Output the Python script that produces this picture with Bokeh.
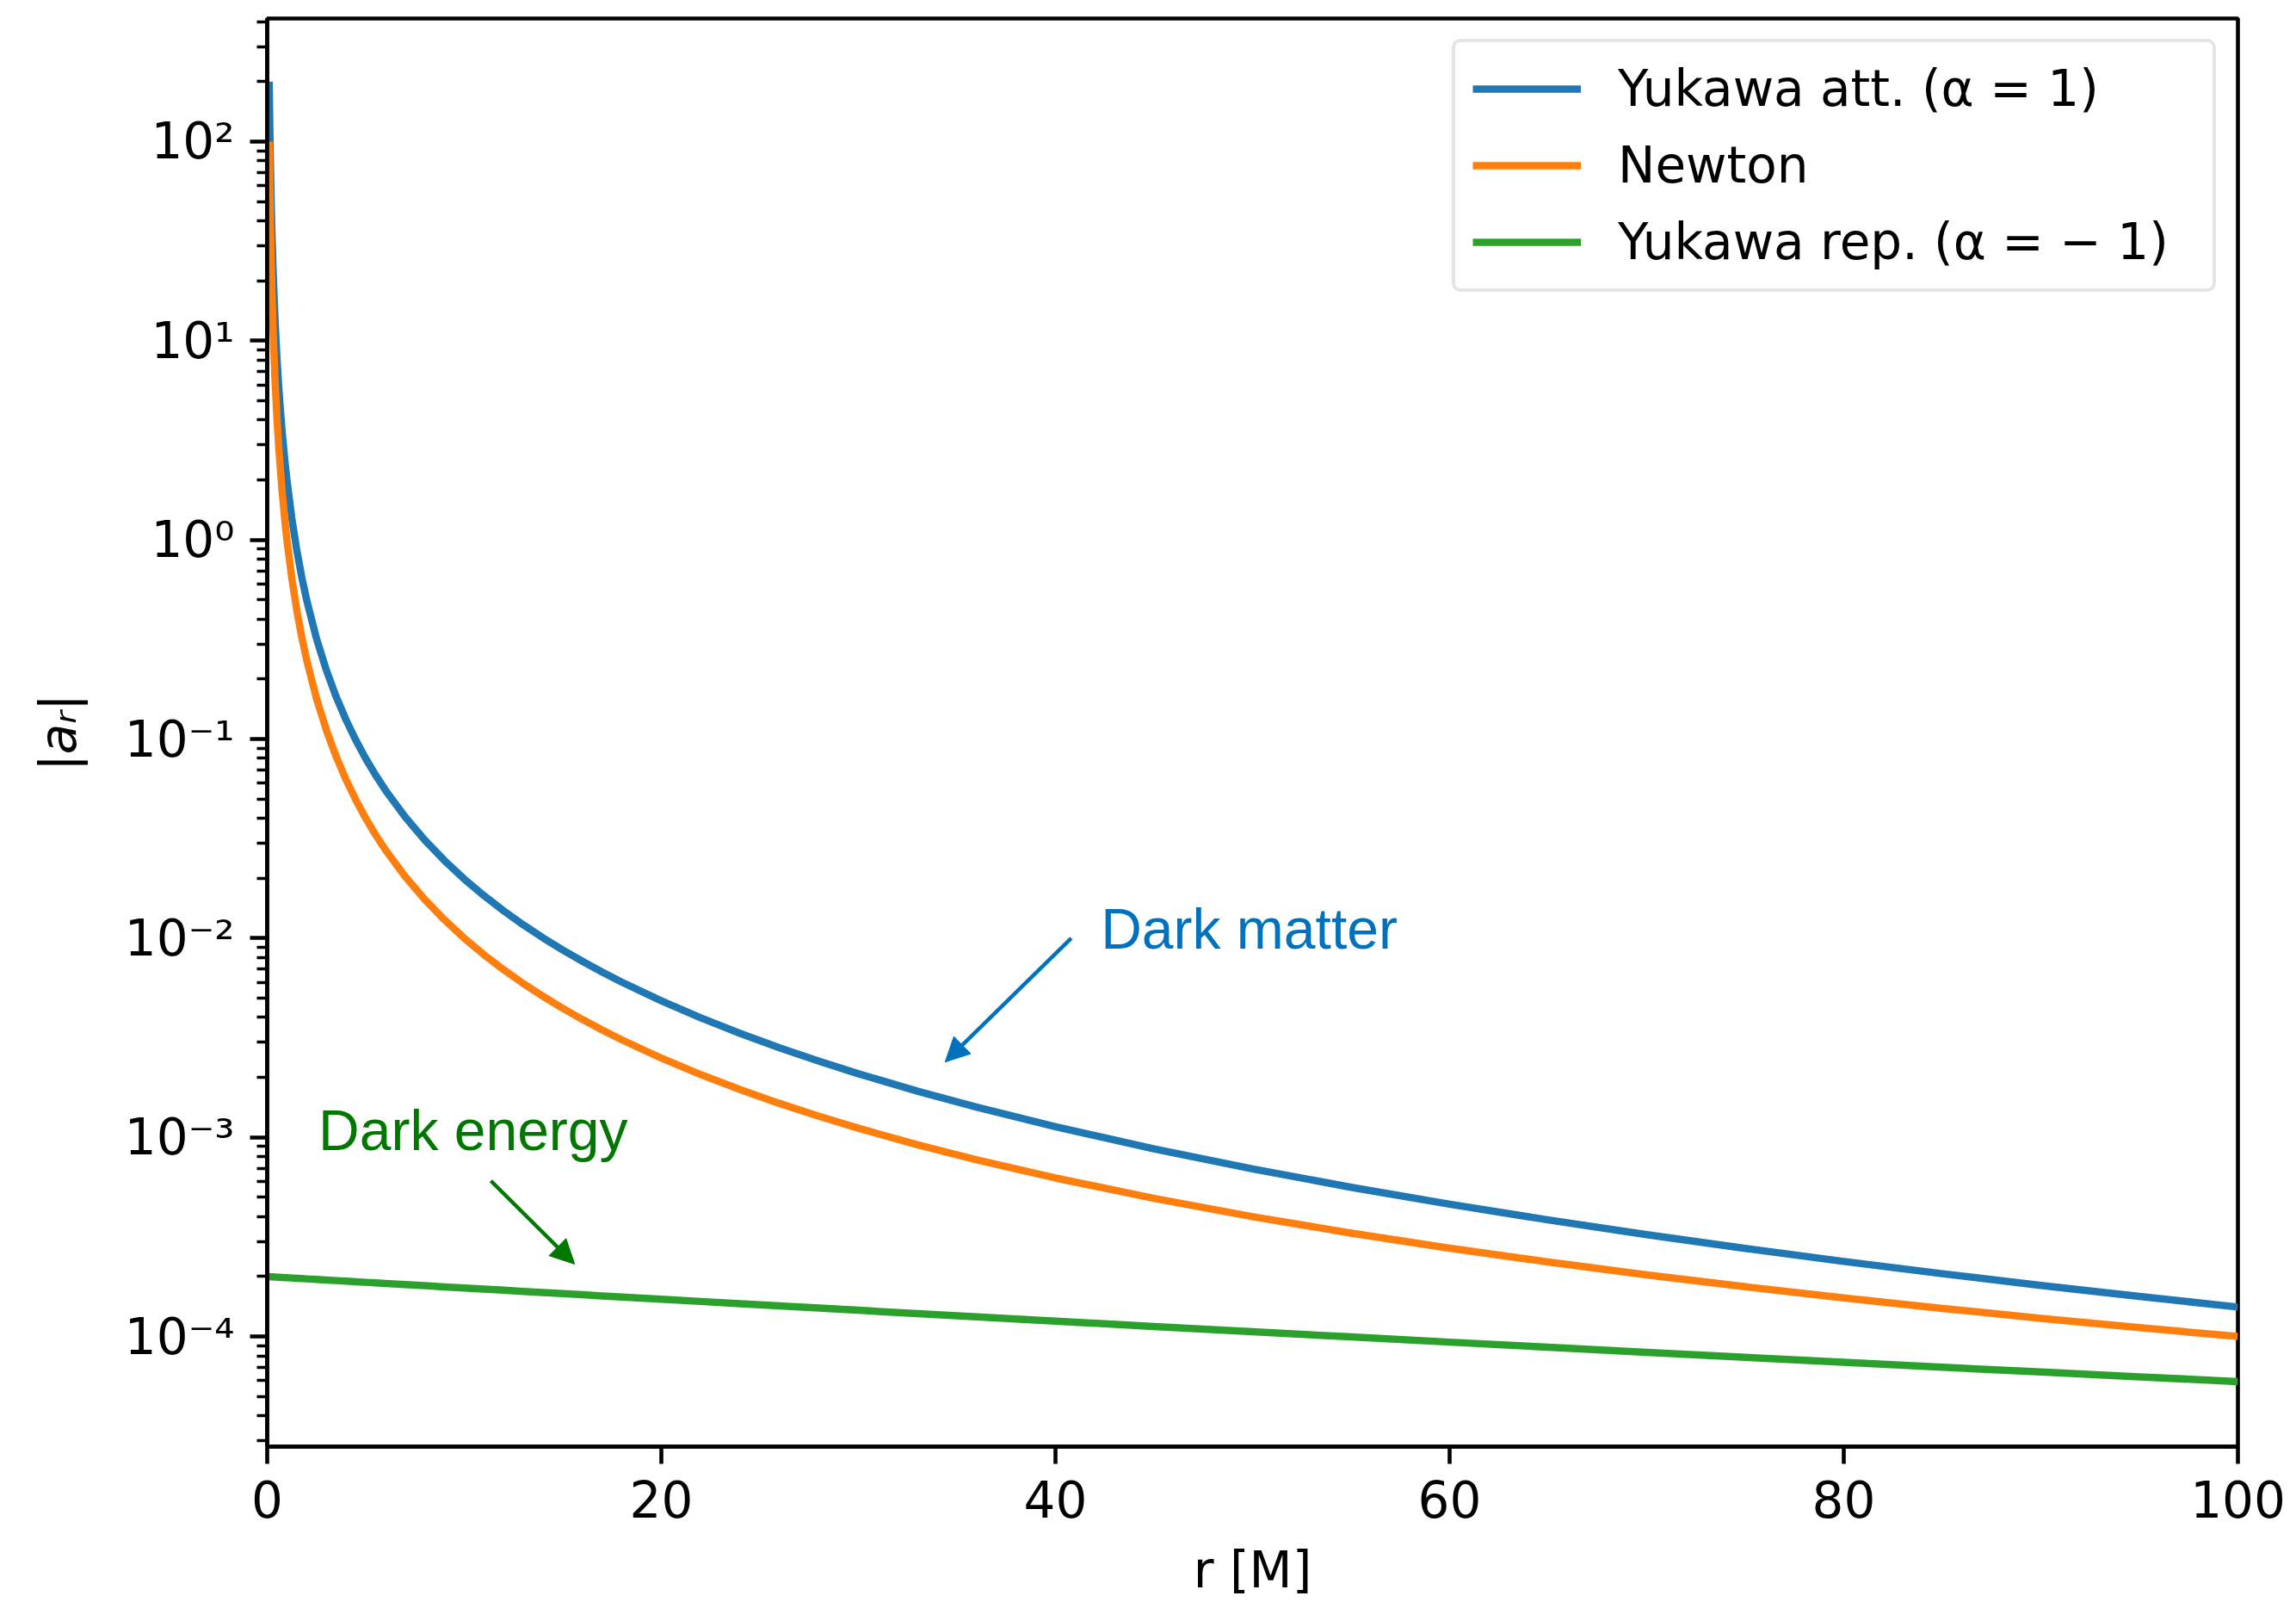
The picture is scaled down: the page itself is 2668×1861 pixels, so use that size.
from bokeh.plotting import figure
from bokeh.models import Range1d, FixedTicker, Legend, LegendItem, Label, Arrow, NormalHead
from bokeh.embed import file_html
from bokeh.resources import INLINE

# ---- data ----
r = [0.1, 0.15, 0.2, 0.25, 0.3, 0.4, 0.5, 0.6, 0.75, 0.9,
     1.0, 1.25, 1.5, 1.75, 2, 2.5, 3, 3.5, 4, 4.5,
     5, 5.5, 6, 7, 8, 9, 10, 11, 12, 13,
     14, 15, 16, 17, 18, 20, 22, 24, 26, 28,
     30, 33, 36, 40, 45, 50, 55, 60, 65, 70,
     75, 80, 85, 90, 95, 100]

yukawa_att = [199.9998, 88.8887, 49.9998, 31.9998, 22.2220, 12.4998, 7.9998, 5.5554, 3.5554, 2.46894,
              1.99980, 1.27980, 0.88869, 0.65287, 0.49981, 0.31981, 0.22203, 0.163074, 0.12481, 0.098577,
              0.079813, 0.0659298, 0.0553709, 0.040634, 0.0310701, 0.0245139, 0.0198248, 0.0163559, 0.0137182, 0.0116658,
              0.0100378, 0.0087247, 0.0076505, 0.0067604, 0.0060149, 0.0048461, 0.0039822, 0.0033261, 0.0028161, 0.0024121,
              0.0020868, 0.0017061, 0.0014176, 0.0011305, 0.0008753, 0.0006943, 0.00056167, 0.00046184, 0.00038504, 0.00032486,
              0.00027695, 0.00023827, 0.00020668, 0.00018059, 0.00015887, 0.0001406]

newton = [100.0, 44.444, 25.0, 16.0, 11.111, 6.25, 4.0, 2.7778, 1.7778, 1.23457,
          1.0, 0.64, 0.44444, 0.32653, 0.25, 0.16, 0.11111, 0.081633, 0.0625, 0.049383,
          0.04, 0.033058, 0.027778, 0.020408, 0.015625, 0.012346, 0.01, 0.0082645, 0.0069444, 0.0059172,
          0.0051020, 0.0044444, 0.0039063, 0.0034602, 0.0030864, 0.0025, 0.0020661, 0.0017361, 0.0014793, 0.0012755,
          0.0011111, 0.00091827, 0.00077160, 0.000625, 0.00049383, 0.0004, 0.00033058, 0.00027778, 0.00023669, 0.00020408,
          0.00017778, 0.00015625, 0.00013841, 0.00012346, 0.00011080, 0.0001]

yukawa_rep = [1.99733e-4, 1.99600e-4, 1.99467e-4, 1.99334e-4, 1.99201e-4, 1.98936e-4, 1.98672e-4, 1.98407e-4, 1.98011e-4, 1.97616e-4,
              1.97353e-4, 1.96698e-4, 1.96045e-4, 1.95395e-4, 1.94746e-4, 1.93457e-4, 1.92177e-4, 1.90907e-4, 1.89647e-4, 1.88395e-4,
              1.87153e-4, 1.85921e-4, 1.84697e-4, 1.82278e-4, 1.79894e-4, 1.77540e-4, 1.75231e-4, 1.72950e-4, 1.70707e-4, 1.68491e-4,
              1.66310e-4, 1.64161e-4, 1.62044e-4, 1.59958e-4, 1.57902e-4, 1.53880e-4, 1.49975e-4, 1.46102e-4, 1.42497e-4, 1.38921e-4,
              1.35446e-4, 1.30420e-4, 1.25607e-4, 1.19505e-4, 1.12354e-4, 1.05696e-4, 9.9494e-5, 9.3715e-5, 8.8326e-5, 8.3299e-5,
              7.8609e-5, 7.4230e-5, 7.0139e-5, 6.6317e-5, 6.2742e-5, 5.9399e-5]

series_labels = ["Yukawa att. (α = 1)", "Newton", "Yukawa rep. (α = − 1)"]
series_colors = ["#1f77b4", "#ff7f0e", "#2ca02c"]

x_ticks = [0, 20, 40, 60, 80, 100]
y_ticks = [1e-4, 1e-3, 1e-2, 1e-1, 1e0, 1e1, 1e2]
y_tick_labels = ["10⁻⁴", "10⁻³", "10⁻²", "10⁻¹", "10⁰", "10¹", "10²"]
y_minor = [m * 10.0 ** e for e in range(-5, 3) for m in range(2, 10)]

FONT = "DejaVu Sans"
FS = "58px"

p = figure(width=2668, height=1861,
           x_range=Range1d(0, 100), y_range=Range1d(2.8e-5, 415),
           y_axis_type="log", output_backend="svg", toolbar_location=None,
           min_border_left=310, min_border_right=68, min_border_top=21, min_border_bottom=181)

p.xgrid.visible = False
p.ygrid.visible = False
p.outline_line_color = "black"
p.outline_line_width = 4.6
p.outline_line_alpha = 1.0

renderers = []
for ys, c in zip([yukawa_att, newton, yukawa_rep], series_colors):
    renderers.append(p.line(r, ys, line_color=c, line_width=8.5, line_join="round"))

# axes
p.xaxis.ticker = FixedTicker(ticks=x_ticks, minor_ticks=[])
p.yaxis.ticker = FixedTicker(ticks=y_ticks, minor_ticks=y_minor)
p.yaxis.major_label_overrides = {v: s for v, s in zip(y_ticks, y_tick_labels)}

for ax in (p.xaxis[0], p.yaxis[0]):
    ax.axis_line_width = 4.6
    ax.axis_line_color = "black"
    ax.major_tick_line_width = 4.6
    ax.major_tick_out = 20
    ax.major_tick_in = 0
    ax.minor_tick_line_width = 3.5
    ax.minor_tick_out = 12
    ax.minor_tick_in = 0
    ax.major_label_text_font = FONT
    ax.major_label_text_font_size = FS
    ax.major_label_text_color = "black"
    ax.axis_label_text_font = FONT
    ax.axis_label_text_font_size = FS
    ax.axis_label_text_color = "black"

p.xaxis.major_label_standoff = 19
p.yaxis.major_label_standoff = 18
p.xaxis.axis_label = "r [M]"
p.xaxis.axis_label_text_font_style = "normal"
p.xaxis.axis_label_standoff = 24
p.yaxis.axis_label = "|aᵣ|"
p.yaxis.axis_label_text_font_style = "italic"
p.yaxis.axis_label_standoff = 40

# legend
legend = Legend(items=[LegendItem(label=l, renderers=[rr]) for l, rr in zip(series_labels, renderers)],
                location=(1377, 1341))
legend.label_text_font = FONT
legend.label_text_font_size = FS
legend.label_text_color = "black"
legend.glyph_width = 126
legend.glyph_height = 58
legend.label_height = 58
legend.label_width = 671
legend.spacing = 21
legend.padding = 20
legend.label_standoff = 43
legend.border_line_color = "#cccccc"
legend.border_line_width = 4.5
legend.background_fill_color = "white"
legend.background_fill_alpha = 0.8
if "border_radius" in Legend.properties():
    legend.border_radius = 10
p.add_layout(legend)

# annotations
dm_color = "#0072BD"
de_color = "#007800"
p.add_layout(Label(x=42.3, y=1.11e-2, text="Dark matter", text_color=dm_color,
                   text_font="Liberation Sans", text_font_size="66px", text_baseline="alphabetic"))
p.add_layout(Arrow(x_start=40.8, y_start=1.0e-2, x_end=34.4, y_end=2.39e-3,
                   line_color=dm_color, line_width=4.5,
                   end=NormalHead(size=28, fill_color=dm_color, line_color=dm_color, line_width=1)))
p.add_layout(Label(x=2.6, y=1.09e-3, text="Dark energy", text_color=de_color,
                   text_font="Liberation Sans", text_font_size="66px", text_baseline="alphabetic"))
p.add_layout(Arrow(x_start=11.35, y_start=6.05e-4, x_end=15.6, y_end=2.31e-4,
                   line_color=de_color, line_width=4.5,
                   end=NormalHead(size=28, fill_color=de_color, line_color=de_color, line_width=1)))

open("out.html", "w").write(file_html(p, INLINE))
